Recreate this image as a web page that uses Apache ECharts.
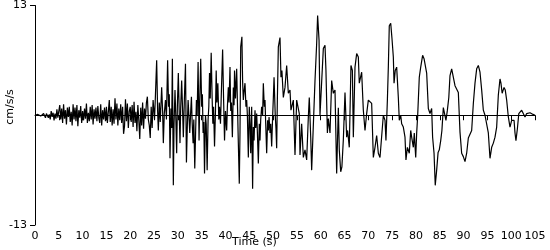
<!DOCTYPE html>
<html>
<head>
<meta charset="utf-8">
<script src="https://cdn.jsdelivr.net/npm/echarts@6/dist/echarts.min.js"></script>
<style>html,body{margin:0;padding:0;background:#fff;}#c{width:550px;height:250px;}</style>
</head>
<body>
<div id="c"></div>
<script>
const xTickLabels = ['0','5','10','15','20','25','30','35','40','45','50','55','60','65','70','75','80','85','90','95','100','105'];
const yTickLabels = ['-13','13'];
const xTitle = 'Time (s)';
const yTitle = 'cm/s/s';

const timesEarly = [0,0.2,0.4,0.6,0.8,1.0,1.2,1.4,1.6,1.8,2.0,2.2,2.4,
  2.6,2.8,3.0,3.2,3.4,3.6,3.8,4.0,4.2,4.4,4.6,4.8,5.0,
  5.2,5.4,5.6,5.8,6.0,6.2,6.4,6.6,6.8,7.0,7.2,7.4,7.6,
  7.8,8.0,8.2,8.4,8.6,8.8,9.0,9.2,9.4,9.6,9.8,10.0,10.2,
  10.4,10.6,10.8,11.0,11.2,11.4,11.6,11.8,12.0,12.2,12.4,12.6,12.8,
  13.0,13.2,13.4,13.6,13.8,14.0,14.2,14.4,14.6,14.8,15.0,15.2,15.4,
  15.6,15.8,16.0,16.2,16.4,16.6,16.8,17.0,17.2,17.4,17.6,17.8,18.0,
  18.2,18.4,18.6,18.8,19.0,19.2,19.4,19.6,19.8,20.0,20.2,20.4,20.6,
  20.8,21.0,21.2,21.4,21.6,21.8,22.0,22.2,22.4,22.6,22.8,23.0,23.2,
  23.4,23.6,23.8,24.0,24.2,24.4,24.6,24.8];
const accelEarly = [0,0.1,-0.1,0.1,0,0.2,-0.1,0.1,-0.2,0.2,0,-0.3,0.2,
  0.4,-0.3,0.1,-0.5,0.5,-0.2,0.3,-0.6,0.2,-0.4,0.7,-0.3,0.5,
  1.2,-0.5,0.8,-0.9,1.3,-0.4,0.6,-1.1,0.9,-0.2,1.0,-0.8,0.4,
  -1.2,1.3,-0.5,0.9,-0.7,1.2,-1.3,0.6,-0.3,1.1,-0.9,0.5,-0.6,
  0.8,-0.4,1.4,-0.9,0.3,-0.7,1.0,-0.5,1.2,-1.1,0.7,-0.4,0.9,
  -0.7,1.1,-0.3,-0.9,1.3,-1.2,0.6,-0.5,0.9,-0.7,1.0,-0.9,0.4,
  1.8,-0.8,1.0,-1.2,0.7,-1.0,2.0,-0.5,1.4,-1.2,0.8,-0.6,1.3,
  -0.9,1.0,-2.2,-1.3,1.9,-0.7,1.4,-1.5,0.5,1.0,-0.8,1.2,-1.4,
  1.6,-0.9,0.4,-1.9,1.2,-0.6,-2.8,0.9,-1.2,1.5,-1.6,0.8,-0.4,
  1.5,2.2,-0.5,-1.2,-2.7,1.0,-1.5,1.8];

const timesMid = [25.1,25.3,25.55,25.75,25.9,26.1,26.3,26.6,26.8,26.95,27.15,27.4,27.6,27.85,28.05,28.2,28.35,28.55,28.7,28.85,29.05,29.2,29.4,29.55,29.75,29.9,30.1,30.3,30.45,30.6,30.8,31.0,31.15,31.35,31.6,31.8,32.0,32.15,32.3,32.5,32.7,32.85,33.0,33.2,33.35,33.55,33.75,33.9,34.05,34.25,34.45,34.6,34.8,35.0,35.15,35.3,35.45,35.6,35.8,35.95,36.15,36.35,36.5,36.65,36.8,37.0,37.2,37.35,37.5,37.7,37.9,38.05,38.2,38.4,38.6,38.75,38.95,39.15,39.4,39.6,39.8,40.0,40.25,40.4,40.6,40.75,40.95,41.1,41.25,41.45,41.65,41.8,41.9,42.1,42.35,42.55,42.7,42.9,43.05,43.2,43.45,43.6,43.75,43.9,44.1,44.3,44.45,44.6,44.8,45.0,45.15,45.3,45.5,45.7,45.85,46.0,46.2,46.35,46.55,46.7,46.9,47.1,47.25,47.4,47.6,47.8,47.95,48.15,48.3,48.45,48.65,48.85,49.0,49.15,49.35,49.5,49.7,49.9,50.05,50.2,50.45,50.6,50.75,50.9];
const accelMid = [-0.5,2.5,6.5,0.5,-1.8,1.5,-0.8,3.3,0.5,-3.3,0.2,1.8,-0.5,6.5,1.0,2.5,-5.1,0.8,-1.5,6.7,-8.3,-1.0,3.0,0.2,-4.5,1.2,5.0,0.0,-3.3,1.0,4.1,0.5,-2.6,1.5,6.1,-5.6,-1.0,1.8,0.2,-2.1,0.5,2.2,-0.8,-3.3,-0.5,-6.3,-1.5,1.8,0.0,6.3,-3.0,1.5,6.7,1.0,2.5,-2.1,-0.8,-6.9,0.0,-1.0,-6.5,-0.5,1.0,5.0,2.0,7.4,2.0,-1.0,1.0,-3.7,0.5,5.3,1.5,3.8,-0.5,1.0,-1.0,3.0,7.8,2.0,-3.0,0.5,-1.8,1.0,3.3,1.5,5.7,0.5,1.5,-2.6,3.3,1.2,5.3,2.0,5.5,0.5,-3.3,-8.1,-2.0,8.1,9.3,4.0,1.8,2.8,3.8,1.0,1.8,0.0,-5.0,1.0,-1.0,-4.5,1.0,-8.7,-1.4,-3.0,0.6,-1.5,0.2,-2.0,-5.7,-1.0,-3.0,-0.5,1.0,0.0,3.8,1.0,1.8,-1.0,-4.5,-0.6,-1.8,-0.2,-2.1,-1.0,-3.7,-0.2,2.0,4.5,0.0,-1.5,-3.9,2.0];

const timesLate = [51.1,51.45,51.65,51.85,52.15,52.5,52.85,53.2,53.55,53.75,54.25,54.6,54.95,55.3,55.5,55.65,56.0,56.35,56.7,57.05,57.4,57.6,57.9,58.1,58.45,58.8,59.15,59.35,59.65,59.85,60.2,60.55,60.9,61.1,61.4,61.6,61.95,62.3,62.65,63.0,63.35,63.7,63.9,64.2,64.45,64.75,65.1,65.45,65.65,66.0,66.35,66.65,66.85,67.2,67.55,67.9,68.1,68.6,68.95,69.3,69.65,70.0,70.35,70.7,71.05,71.4,71.75,72.1,72.45,72.8,73.15,73.5,73.7,74.0,74.2,74.4,74.7,74.95,75.25,75.4,75.65,75.95,76.3,76.5,76.8,77.0,77.35,77.7,77.9,78.2,78.6,78.9,79.1,79.45,79.65,79.95,80.15,80.35,80.7,81.0,81.4,81.7,81.95,82.25,82.6,82.95,83.3,83.5,83.8,84.05,84.35,84.65,84.9,85.2,85.45,85.75,86.1,86.3,86.6,86.9,87.15,87.5,87.85,88.2,88.55,88.9,89.25,89.6,89.95,90.3,90.65,91.0,91.35,91.7,92.05,92.4,92.75,93.1,93.45,93.8,94.15,94.5,94.85,95.2,95.55,95.9,96.25,96.6,96.95,97.3,97.65,97.85,98.1,98.5,98.75,99.05,99.4,99.75,100.1,100.3,100.6,100.8,101.0,101.3,101.6,101.85,102.2,102.55,102.9,103.25,103.6,103.95,104.3,104.6,105.0];
const accelLate = [8.1,9.2,4.5,5.3,2.1,3.3,5.9,2.6,3.0,0.6,1.8,-4.7,1.8,2.0,0.2,-4.7,-1.0,-5.0,-4.1,-5.3,-0.2,2.1,-2.6,-6.5,-6.6,4.1,8.5,11.8,8.9,0.0,0.2,7.9,8.3,5.3,-2.1,-0.4,-2.1,4.1,2.6,3.0,-6.9,0.9,-4.1,-6.7,-6.1,-2.9,2.7,-2.6,-1.8,-3.8,5.9,5.3,-2.6,5.7,7.3,6.9,3.8,5.1,0.6,-1.8,0.2,1.8,1.6,1.4,-5.0,-3.8,-2.4,-4.5,-5.0,-4.9,0.0,-0.6,-3.0,1.8,5.7,10.6,10.9,9.2,6.9,3.8,5.3,5.7,2.1,-0.6,0.0,-1.0,-1.4,-2.6,-5.3,-3.8,-4.5,-1.8,-2.6,-3.8,-2.1,-5.0,-2.1,-0.2,4.5,5.7,7.1,6.7,6.5,5.0,0.8,0.2,0.8,-2.6,-4.5,-8.3,-6.5,-4.4,-4.1,-3.0,-1.8,0.9,0.9,-0.6,0.6,2.1,4.7,5.5,5.3,3.5,3.3,2.7,-2.0,-4.5,-4.9,-5.5,-4.5,-2.7,-2.6,-1.8,1.4,3.8,5.5,5.9,5.1,3.0,0.6,0.0,-0.2,-2.1,-5.1,-3.8,-3.3,-2.6,-1.4,2.4,4.3,3.8,2.6,3.3,3.0,1.8,-0.2,-1.4,-0.6,-0.4,-0.6,-2.1,-3.0,-1.6,0.2,0.4,0.6,0.8,-0.2,0.2,0.2,0.3,0.2,0.1,0.0];

const times = timesEarly.concat(timesMid, timesLate);
const accel = accelEarly.concat(accelMid, accelLate);
const seriesData = times.map((t, i) => [t, accel[i]]);

const font = 'DejaVu Sans';
const chart = echarts.init(document.getElementById('c'), null, {renderer: 'canvas'});
chart.setOption({
  animation: false,
  backgroundColor: '#ffffff',
  grid: {left: 35, right: 15, top: 5, bottom: 25, containLabel: false},
  xAxis: {
    type: 'value', min: 0, max: 105, interval: 5,
    axisLine: {show: true, lineStyle: {color: '#000', width: 1}},
    axisTick: {show: true, length: 5, lineStyle: {color: '#000'}},
    axisLabel: {color: '#000', fontFamily: font, fontSize: 11, margin: 6,
      formatter: (v) => xTickLabels[Math.round(v / 5)] || ''},
    splitLine: {show: false}
  },
  yAxis: {
    type: 'value', min: -13, max: 13, interval: 26,
    axisLine: {show: true, onZero: false, lineStyle: {color: '#000', width: 1}},
    axisTick: {show: true, length: 5, lineStyle: {color: '#000'}},
    axisLabel: {color: '#000', fontFamily: font, fontSize: 11, margin: 8,
      formatter: (v) => v < 0 ? yTickLabels[0] : yTickLabels[1]},
    splitLine: {show: false}
  },
  graphic: [
    {type: 'text', left: 232, top: 237, style: {text: xTitle, fill: '#000', font: '11px "DejaVu Sans"'}},
    {type: 'text', x: 10, y: 107, rotation: Math.PI / 2, style: {text: yTitle, fill: '#000', font: '11px "DejaVu Sans"', align: 'center', verticalAlign: 'middle'}}
  ],
  series: [{
    type: 'line', data: seriesData, showSymbol: false, symbol: 'none',
    lineStyle: {color: '#000', width: 1.2}, silent: true
  }]
});
</script>
</body>
</html>
